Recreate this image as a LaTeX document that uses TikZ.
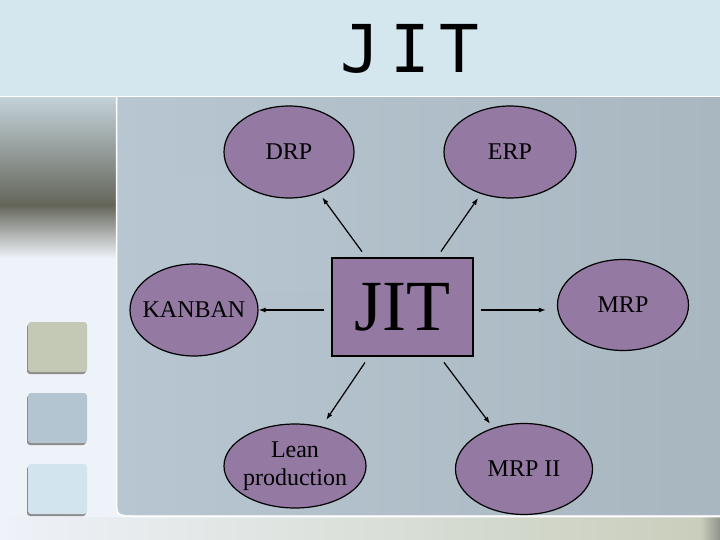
\documentclass[tikz,border=0pt]{standalone}
\usepackage{fontspec}
\setmainfont{Liberation Serif}
\newfontfamily\titlefont{DejaVu Sans Mono}
\usetikzlibrary{shapes.geometric,arrows.meta,fadings}
\definecolor{bande}{HTML}{D4E7EF}
\definecolor{fond}{HTML}{EEF2F9}
\definecolor{mauve}{HTML}{9479A3}
\definecolor{panneauG}{HTML}{B7C6D0}
\definecolor{panneauD}{HTML}{A8B7C0}
\definecolor{ombre}{HTML}{8E9CA4}
\definecolor{strie}{HTML}{64665A}
\definecolor{carreA}{HTML}{C3C9B5}
\definecolor{carreB}{HTML}{B3C5D0}
\definecolor{carreC}{HTML}{D2E5EE}
\begin{document}
\begin{tikzpicture}[x=1pt, y=-1pt,
  bulle/.style={ellipse, draw, line width=1.2pt, fill=mauve, inner xsep=-15pt, inner ysep=0pt,
    align=center, font=\fontsize{24}{28}\selectfont},
  fleche/.style={-{Latex[length=7pt,width=5pt]}, line width=1.2pt, shorten <=7pt, shorten >=5pt}]
\useasboundingbox (0,0) rectangle (720,540);
% fond de la diapositive
\fill[fond] (0,0) rectangle (720,540);
\fill[bande] (0,0) rectangle (720,96);
\shade[top color=bande!80!gray, bottom color=strie] (0,97) rectangle (116,205);
\shade[top color=strie, bottom color=fond] (0,205) rectangle (116,258);
\shade[left color=fond, right color=carreA!90!white] (0,517) rectangle (700,540);
\shade[left color=carreA!90!white, right color=strie!70!white] (700,517) rectangle (720,540);
\shade[left color=panneauG, right color=panneauD]
  (720,97) -- (117,97) -- (117,497) .. controls (117,515) .. (135,515) -- (720,515) -- cycle;
\shade[top color=panneauG, middle color=ombre, bottom color=panneauG, path fading=east, opacity=0.8]
  (117,175) rectangle (420,290);
\shade[top color=panneauD, middle color=ombre!90!black, bottom color=panneauD, path fading=west, opacity=0.8]
  (560,360) rectangle (720,510);
\draw[white, line width=1.5pt] (0,96.5) -- (720,96.5);
\draw[white, line width=1.5pt] (116.5,97) -- (116.5,497) .. controls (116.5,516.5) .. (135,516.5) -- (720,516.5);
%
\foreach \y/\c in {322/carreA, 393/carreB, 464/carreC}{
  \fill[black!45, rounded corners=3pt] (27,\y+2) rectangle (86,\y+52);
  \fill[\c, rounded corners=3pt] (28,\y) rectangle (87,\y+50);
}
%
\node[anchor=base, font=\titlefont\fontsize{66}{66}\selectfont](titre) at (410,73){\spaceskip=10pt J I T};
%
\node[draw, line width=1.5pt, fill=mauve, minimum width=141pt, minimum height=98pt, inner sep=0pt,
  font=\fontsize{72}{72}\selectfont](JIT) at (402.5,307){JIT};
\node[bulle, minimum width=130pt, minimum height=92pt](DRP) at (289,152){DRP};
\node[bulle, minimum width=132pt, minimum height=92pt](ERP) at (510,152){ERP};
\node[bulle, minimum width=128pt, minimum height=92pt](KANBAN) at (194,310){KANBAN};
\node[bulle, minimum width=131pt, minimum height=91pt](MRP) at (623,305){MRP};
\node[bulle, minimum width=142pt, minimum height=84pt](Lean) at (295,466){Lean\\production};
\node[bulle, minimum width=137pt, minimum height=91pt](MRPII) at (524,469){MRP II};
%
\draw[fleche](JIT)--(DRP);
\draw[fleche](JIT)--(ERP);
\draw[fleche, shorten >=0pt]([yshift=-3pt]JIT.west)--([yshift=-3pt]JIT.west-|KANBAN.east);
\draw[fleche, shorten >=11pt]([yshift=-3pt]JIT.east)--([yshift=-3pt]JIT.east-|MRP.west);
\draw[fleche, shorten >=8pt](JIT)--(Lean);
\draw[fleche](JIT)--(MRPII);
\end{tikzpicture}
\end{document}
